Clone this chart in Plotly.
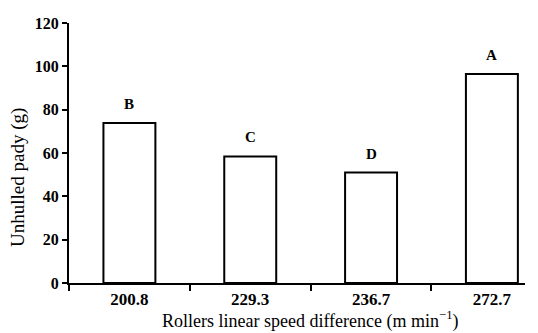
import plotly.graph_objects as go

categories = ["200.8", "229.3", "236.7", "272.7"]
values = [73.8, 58.4, 51.0, 96.5]
letters = ["B", "C", "D", "A"]
y_ticks = [0, 20, 40, 60, 80, 100, 120]

font_family = "Liberation Serif, Times New Roman, serif"
idx = list(range(len(categories)))

fig = go.Figure()
fig.add_trace(go.Bar(
    x=idx, y=values,
    marker=dict(color="white", line=dict(color="black", width=2)),
    width=0.43,
    showlegend=False,
))

for i, v, t in zip(idx, values, letters):
    fig.add_annotation(x=i, y=v, xref="x", yref="y", text="<b>" + t + "</b>",
                       showarrow=False, yanchor="bottom", yshift=9,
                       font=dict(family=font_family, size=15, color="black"))

fig.update_layout(
    width=538, height=333,
    margin=dict(l=69, r=13, t=23, b=50, autoexpand=False),
    plot_bgcolor="white", paper_bgcolor="white",
    font=dict(family=font_family, color="black", size=17),
)
fig.update_xaxes(
    range=[-0.5, 3.274],
    tickvals=idx, ticktext=["<b>%s</b>" % c for c in categories],
    showline=True, linecolor="black", linewidth=2,
    ticks="", showgrid=False, zeroline=False,
    tickfont=dict(family=font_family, size=17, color="black"),
)
# boundary tick marks (between categories) on an overlaying axis
fig.update_layout(xaxis2=dict(
    overlaying="x", side="bottom", range=[-0.5, 3.274],
    tickvals=[-0.5, 0.5, 1.5, 2.5], showticklabels=False,
    ticks="outside", ticklen=7, tickwidth=2, tickcolor="black",
    showline=False, showgrid=False, zeroline=False,
))
fig.add_trace(go.Scatter(x=[-0.5], y=[0], xaxis="x2", mode="markers",
                         marker=dict(opacity=0), showlegend=False, hoverinfo="skip"))
fig.update_yaxes(
    range=[0, 120], tickvals=y_ticks,
    ticktext=["<b>%d</b>" % v for v in y_ticks],
    showline=True, linecolor="black", linewidth=2,
    ticks="outside", ticklen=5, tickwidth=2, tickcolor="black",
    showgrid=False, zeroline=False,
    tickfont=dict(family=font_family, size=16, color="black"),
)
fig.add_annotation(text="Rollers linear speed difference (m min<sup>\u22121</sup>)",
                   xref="paper", yref="paper", x=0.528, y=0, yshift=-37,
                   xanchor="center", yanchor="middle", showarrow=False,
                   font=dict(family=font_family, size=18, color="black"))
fig.add_annotation(text="Unhulled pady (g)", textangle=-90,
                   xref="paper", yref="paper", x=0, y=0.5, xshift=-51, yshift=-25,
                   xanchor="center", yanchor="middle", showarrow=False,
                   font=dict(family=font_family, size=19, color="black"))

fig.write_html("out.html", config={"displayModeBar": False},
               post_script="document.body.style.margin='0';")
